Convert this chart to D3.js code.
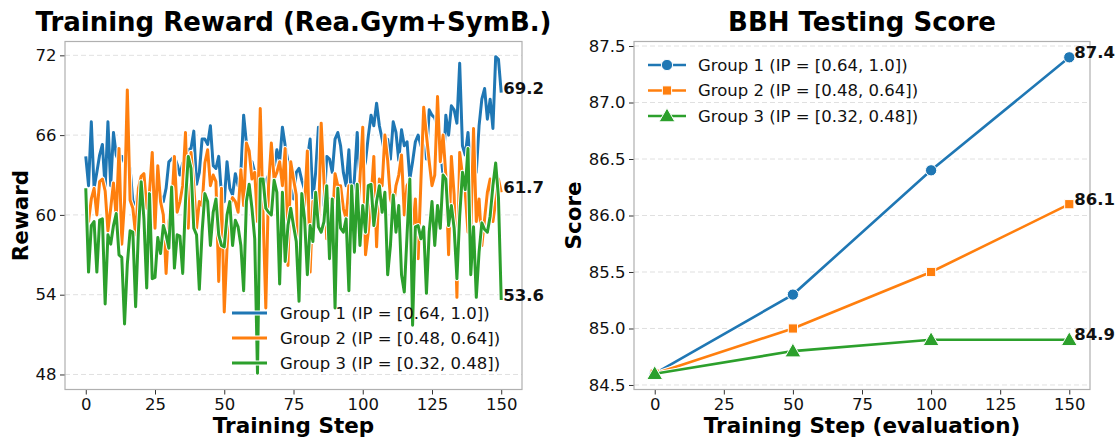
<!DOCTYPE html>
<html><head><meta charset="utf-8">
<script src="https://cdn.jsdelivr.net/npm/d3@7"></script>
<style>
html,body{margin:0;padding:0;background:#fff;}
svg{display:block;font-family:"DejaVu Sans",sans-serif;}
</style></head><body>
<svg id="chart" width="1117" height="438"></svg>
<script>
// ---------------- data ----------------
const steps = d3.range(0, 151);
const rewardG1 = [
64.4,62.2,67.0,62.0,63.2,64.5,65.3,62.0,67.0,62.2,
66.2,64.5,64.0,64.4,63.9,63.5,63.5,61.0,60.7,62.0,
62.5,62.5,61.0,61.5,62.5,61.5,62.5,61.5,61.0,62.0,
64.0,64.2,64.4,63.8,63.0,63.9,62.5,64.9,65.0,66.3,
62.3,63.2,65.7,65.7,65.3,66.7,63.7,63.5,64.4,61.5,
61.0,64.0,62.0,61.5,63.1,62.2,63.2,67.5,65.4,64.2,
64.0,63.2,61.5,63.0,61.5,62.5,63.0,64.0,63.5,64.9,
64.0,66.6,65.2,64.0,63.2,61.2,63.2,63.5,62.6,61.9,
64.2,65.7,61.2,63.2,66.6,64.2,60.7,64.4,64.2,63.2,
65.7,66.2,65.2,63.2,62.2,64.9,60.7,62.7,66.2,62.5,
63.2,64.0,65.9,67.5,66.7,68.4,66.7,65.7,64.5,65.7,
64.2,67.0,66.2,64.1,66.4,65.2,65.5,62.7,64.0,65.5,
66.0,65.2,66.2,64.2,67.9,67.5,67.3,66.5,65.0,63.0,
67.5,66.0,68.2,67.9,66.9,71.4,65.2,64.5,66.2,63.2,
65.2,63.2,66.7,68.7,69.5,67.2,68.7,66.5,71.9,71.7,
69.2];
const rewardG2 = [
60.5,59.5,61.2,62.0,60.0,62.5,62.7,61.8,58.8,60.5,
62.4,59.8,65.0,57.8,61.0,69.4,61.1,60.5,58.5,62.0,
62.9,63.1,60.5,61.7,64.7,59.0,63.7,61.0,60.0,55.6,
59.5,60.5,64.4,60.2,61.0,62.2,66.2,59.0,64.7,62.2,
59.0,61.0,60.7,63.9,64.9,62.2,63.0,62.5,55.0,62.0,
52.7,57.5,60.7,61.3,61.0,60.2,63.4,60.7,65.4,64.8,
62.7,63.2,59.5,68.0,60.2,53.0,62.2,65.4,62.7,63.2,
64.0,62.2,65.0,56.2,64.0,62.7,61.5,54.4,60.2,60.7,
64.8,55.7,61.0,61.0,59.2,66.9,62.6,58.2,61.2,59.1,
63.1,62.2,62.2,60.5,59.7,62.2,59.7,61.0,59.5,62.7,
66.6,57.0,58.7,61.2,64.4,57.6,62.7,62.2,66.0,64.1,
61.2,60.5,62.2,63.0,64.5,60.0,62.2,62.6,58.7,61.2,
56.7,62.5,68.1,66.0,64.0,62.2,63.0,68.9,64.0,66.0,
63.0,57.0,64.4,61.5,53.8,64.7,63.0,61.7,58.7,58.7,
66.5,59.5,61.2,57.7,59.7,61.7,62.7,59.5,61.0,62.7,
61.7];
const rewardG3 = [
62.0,55.7,59.2,59.5,55.7,59.6,59.7,53.3,58.5,57.8,
59.2,60.1,57.0,56.8,51.8,56.3,58.8,58.7,53.1,58.7,
62.5,59.7,54.5,61.6,55.2,55.3,58.3,57.1,59.2,58.5,
57.5,62.1,56.0,58.5,58.4,55.6,61.0,64.4,63.5,59.0,
58.5,54.4,58.7,61.6,61.0,57.7,60.2,61.2,58.5,57.7,
57.6,60.0,61.0,57.7,59.6,59.1,57.7,54.3,61.0,62.3,
60.5,58.2,48.1,62.7,62.7,60.5,60.2,60.0,62.6,61.7,
54.8,61.7,56.5,59.2,60.5,59.2,58.0,53.5,61.6,59.7,
55.5,59.2,58.0,61.7,59.1,58.7,59.5,62.2,56.7,61.2,
53.0,62.0,59.0,58.7,59.7,54.3,62.2,57.2,62.3,57.7,
60.7,58.7,62.2,62.3,59.2,61.0,62.2,60.2,61.7,55.5,
57.7,61.5,58.7,60.7,55.5,54.2,58.5,62.7,51.7,59.1,
59.2,58.2,59.1,54.1,58.7,61.0,57.7,60.7,59.0,63.0,
62.7,59.2,60.7,59.0,55.2,59.9,63.2,61.9,65.0,55.5,
59.1,53.8,57.2,59.4,58.9,58.7,59.9,62.2,63.9,61.3,
53.6];
const evalSteps = [0, 50, 100, 150];
const scoreG1 = [84.6, 85.3, 86.4, 87.4];
const scoreG2 = [84.6, 85.0, 85.5, 86.1];
const scoreG3 = [84.6, 84.8, 84.9, 84.9];
const groupNames = ["Group 1 (IP = [0.64, 1.0])", "Group 2 (IP = [0.48, 0.64])", "Group 3 (IP = [0.32, 0.48])"];
const colors = ["#1f77b4", "#ff7f0e", "#2ca02c"];
const rewardTicks = [48, 54, 60, 66, 72];
const scoreTicks = [84.5, 85.0, 85.5, 86.0, 86.5, 87.0, 87.5];
const stepTicks = [0, 25, 50, 75, 100, 125, 150];

// ---------------- setup ----------------
const svg = d3.select("#chart");
const TOP = 41.5, BOTTOM = 389.5;

function frameAxes(g, x, y, yTicks, yFmt) {
  g.append("g").selectAll("line").data(yTicks).join("line")
    .attr("x1", x.range()[0]).attr("x2", x.range()[1])
    .attr("y1", d => y(d)).attr("y2", d => y(d))
    .attr("stroke", "#d8d8d8").attr("stroke-width", 0.8).attr("stroke-dasharray", "5,3");
  const ya = g.append("g").attr("transform", `translate(${x.range()[0]},0)`)
    .call(d3.axisLeft(y).tickValues(yTicks).tickFormat(yFmt).tickSize(5).tickPadding(3.5));
  const xa = g.append("g").attr("transform", `translate(0,${BOTTOM})`)
    .call(d3.axisBottom(x).tickValues(stepTicks).tickFormat(d3.format("d")).tickSize(5).tickPadding(4));
  [ya, xa].forEach(a => {
    a.select(".domain").remove();
    a.selectAll(".tick line").attr("stroke", "#333").attr("stroke-width", 1);
    a.selectAll(".tick text").attr("fill", "#111").style("font-size", "16.5px").style("font-family", "DejaVu Sans");
  });
}
function frameRect(g, x) {
  g.append("rect").attr("x", x.range()[0]).attr("y", TOP)
    .attr("width", x.range()[1] - x.range()[0]).attr("height", BOTTOM - TOP)
    .attr("fill", "none").attr("stroke", "#b0b0b0").attr("stroke-width", 1.2);
}

// ---------------- left panel ----------------
const xL = d3.scaleLinear().domain([-7.5, 157.5]).range([65, 522]);
const yL = d3.scaleLinear().domain([46.87, 73.04]).range([BOTTOM, TOP]);
const gL = svg.append("g");
frameAxes(gL, xL, yL, rewardTicks, d3.format("d"));
svg.append("clipPath").attr("id", "clipL").append("rect")
  .attr("x", 65).attr("y", TOP).attr("width", 457).attr("height", BOTTOM - TOP);
const lineL = d3.line().x((d, i) => xL(steps[i])).y(d => yL(d));
const rewards = [rewardG1, rewardG2, rewardG3];
const gLines = gL.append("g").attr("clip-path", "url(#clipL)");
rewards.forEach((s, k) => {
  gLines.append("path").attr("d", lineL(s)).attr("fill", "none")
    .attr("stroke", "#fff").attr("stroke-width", 5).attr("stroke-linejoin", "round");
  gLines.append("path").attr("d", lineL(s)).attr("fill", "none")
    .attr("stroke", colors[k]).attr("stroke-width", 3).attr("stroke-linejoin", "round");
});
frameRect(gL, xL);
rewards.forEach((s, k) => {
  const v = s[s.length - 1];
  gL.append("text").attr("x", xL(steps[steps.length - 1]) + 2).attr("y", yL(v) - 4.5)
    .attr("dominant-baseline", "central").attr("font-weight", "bold").attr("font-size", "16.5px")
    .attr("fill", "#111").text(v.toFixed(1));
});
const legL = gL.append("g");
[313, 338, 363].forEach((yy, k) => {
  legL.append("line").attr("x1", 232).attr("x2", 267).attr("y1", yy).attr("y2", yy)
    .attr("stroke", "#fff").attr("stroke-width", 5);
  legL.append("line").attr("x1", 232).attr("x2", 267).attr("y1", yy).attr("y2", yy)
    .attr("stroke", colors[k]).attr("stroke-width", 3);
  legL.append("text").attr("x", 280).attr("y", yy).attr("dominant-baseline", "central")
    .attr("font-size", "16.5px").attr("fill", "#111").text(groupNames[k]);
});
svg.append("text").attr("x", 293.5).attr("y", 31).attr("text-anchor", "middle")
  .attr("font-weight", "bold").attr("font-size", "26px").text("Training Reward (Rea.Gym+SymB.)");
svg.append("text").attr("x", 293.5).attr("y", 433).attr("text-anchor", "middle")
  .attr("font-weight", "bold").attr("font-size", "21.5px").text("Training Step");
svg.append("text").attr("transform", `translate(28,${(TOP + BOTTOM) / 2}) rotate(-90)`)
  .attr("text-anchor", "middle").attr("font-weight", "bold").attr("font-size", "21.5px").text("Reward");

// ---------------- right panel ----------------
const xR = d3.scaleLinear().domain([-7.5, 157.5]).range([634, 1090]);
const yR = d3.scaleLinear().domain([84.46, 87.54]).range([BOTTOM, TOP]);
const gR = svg.append("g");
frameAxes(gR, xR, yR, scoreTicks, d3.format(".1f"));
const scores = [scoreG1, scoreG2, scoreG3];
const symbols = [d3.symbolCircle, d3.symbolSquare, d3.symbolTriangle];
const symSize = [100, 85, 110];
const lineR = d3.line().x((d, i) => xR(evalSteps[i])).y(d => yR(d));
scores.forEach((s, k) => {
  gR.append("path").attr("d", lineR(s)).attr("fill", "none")
    .attr("stroke", "#fff").attr("stroke-width", 4.5);
  gR.append("path").attr("d", lineR(s)).attr("fill", "none")
    .attr("stroke", colors[k]).attr("stroke-width", 2.6);
  gR.append("g").selectAll("path").data(s).join("path")
    .attr("transform", (d, i) => `translate(${xR(evalSteps[i])},${yR(d) + (k === 2 ? 1.2 : 0)})`)
    .attr("d", d3.symbol().type(symbols[k]).size(symSize[k]))
    .attr("fill", colors[k]).attr("stroke", "#fff").attr("stroke-width", 1);
});
frameRect(gR, xR);
scores.forEach((s, k) => {
  const v = s[s.length - 1];
  gR.append("text").attr("x", xR(evalSteps[evalSteps.length - 1]) + 5).attr("y", yR(v) - 5)
    .attr("dominant-baseline", "central").attr("font-weight", "bold").attr("font-size", "16.5px")
    .attr("fill", "#111").text(v.toFixed(1));
});
const legR = gR.append("g");
[65, 90.5, 116].forEach((yy, k) => {
  legR.append("line").attr("x1", 648).attr("x2", 686).attr("y1", yy).attr("y2", yy)
    .attr("stroke", colors[k]).attr("stroke-width", 2.6);
  legR.append("path").attr("transform", `translate(667,${yy + (k === 2 ? 1.2 : 0)})`)
    .attr("d", d3.symbol().type(symbols[k]).size(symSize[k]))
    .attr("fill", colors[k]).attr("stroke", "#fff").attr("stroke-width", 1);
  legR.append("text").attr("x", 698).attr("y", yy).attr("dominant-baseline", "central")
    .attr("font-size", "16.5px").attr("fill", "#111").text(groupNames[k]);
});
svg.append("text").attr("x", 862).attr("y", 31).attr("text-anchor", "middle")
  .attr("font-weight", "bold").attr("font-size", "26px").text("BBH Testing Score");
svg.append("text").attr("x", 862).attr("y", 433).attr("text-anchor", "middle")
  .attr("font-weight", "bold").attr("font-size", "21.5px").text("Training Step (evaluation)");
svg.append("text").attr("transform", `translate(581,${(TOP + BOTTOM) / 2}) rotate(-90)`)
  .attr("text-anchor", "middle").attr("font-weight", "bold").attr("font-size", "21.5px").text("Score");
</script></body></html>
